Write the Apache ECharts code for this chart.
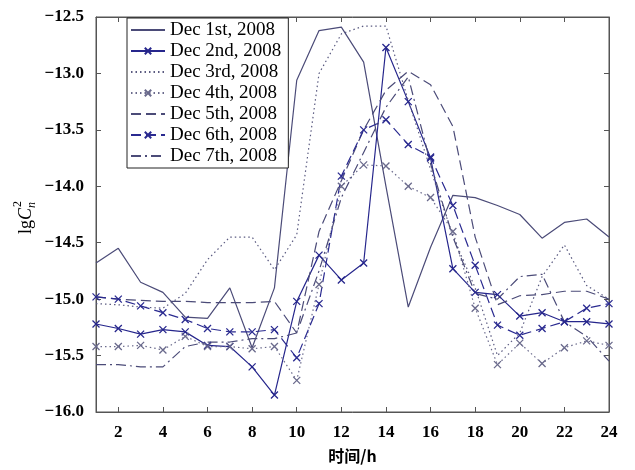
<!DOCTYPE html>
<html><head><meta charset="utf-8">
<script src="https://cdn.jsdelivr.net/npm/echarts@6/dist/echarts.min.js"></script>
<style>html,body{margin:0;padding:0;background:#fff}#c{width:635px;height:470px}</style>
</head><body><div id="c"></div>
<script>
const hours = [1,2,3,4,5,6,7,8,9,10,11,12,13,14,15,16,17,18,19,20,21,22,23,24];
const yTicks = [-16.0,-15.5,-15.0,-14.5,-14.0,-13.5,-13.0,-12.5];
const seriesNames = ['Dec 1st, 2008','Dec 2nd, 2008','Dec 3rd, 2008','Dec 4th, 2008','Dec 5th, 2008','Dec 6th, 2008','Dec 7th, 2008'];
const dec1 = [-14.68,-14.55,-14.85,-14.94,-15.16,-15.17,-14.90,-15.43,-14.90,-13.06,-12.62,-12.59,-12.90,-14.00,-15.07,-14.54,-14.08,-14.10,-14.17,-14.25,-14.46,-14.32,-14.29,-14.45];
const dec2 = [-15.22,-15.26,-15.31,-15.27,-15.29,-15.41,-15.42,-15.60,-15.85,-15.02,-14.61,-14.83,-14.68,-12.77,-13.25,-13.75,-14.73,-14.94,-14.96,-15.15,-15.12,-15.20,-15.20,-15.22];
const dec3 = [-15.04,-15.05,-15.07,-15.08,-14.95,-14.65,-14.45,-14.45,-14.74,-14.43,-13.00,-12.65,-12.58,-12.58,-13.24,-13.85,-14.44,-14.90,-15.50,-15.30,-14.80,-14.52,-14.88,-15.00];
const dec4 = [-15.42,-15.42,-15.41,-15.45,-15.33,-15.42,-15.42,-15.44,-15.42,-15.72,-14.87,-14.00,-13.81,-13.82,-14.00,-14.10,-14.40,-15.08,-15.58,-15.39,-15.57,-15.43,-15.37,-15.41];
const dec5 = [-14.98,-15.00,-15.01,-15.02,-15.02,-15.03,-15.03,-15.03,-15.02,-15.30,-14.40,-13.95,-13.50,-13.15,-12.98,-13.10,-13.47,-14.45,-15.05,-14.97,-14.96,-14.93,-14.93,-15.00];
const dec6 = [-14.98,-15.00,-15.06,-15.12,-15.18,-15.26,-15.29,-15.29,-15.27,-15.52,-15.04,-13.91,-13.50,-13.41,-13.63,-13.74,-14.17,-14.70,-15.23,-15.32,-15.26,-15.20,-15.08,-15.04];
const dec7 = [-15.58,-15.58,-15.60,-15.60,-15.42,-15.38,-15.38,-15.35,-15.35,-15.30,-14.75,-14.10,-13.70,-13.30,-13.03,-13.80,-14.45,-14.95,-15.00,-14.80,-14.78,-15.20,-15.33,-15.55];
const hasMarker = [false, true, false, true, false, true, false];

const XMARK = 'path://M0,0L10,10M10,0L0,10';
const serif = "'Liberation Serif','DejaVu Serif',serif";
function mk(name, data, color, type, marker, width) {
  return {
    name, type: 'line', data, xAxisIndex: 0, yAxisIndex: 0,
    symbol: marker ? XMARK : 'none', symbolSize: 7, showSymbol: !!marker,
    lineStyle: { color, width: width || 1.2, type },
    itemStyle: { color: 'rgba(0,0,0,0)', borderColor: color, borderWidth: 1.3 },
    emphasis: { disabled: true }, animation: false, z: 3
  };
}
const fmt = v => (v < 0 ? '\u2212' : '') + Math.abs(v).toFixed(1);
const chart = echarts.init(document.getElementById('c'), null, { renderer: 'canvas' });
const tickCat = (i, v) => (+v) % 2 === 0;
chart.setOption({
  animation: false,
  backgroundColor: '#fff',
  grid: { left: 96, right: 26, top: 17, bottom: 58, show: true, borderColor: '#555', borderWidth: 1, backgroundColor: '#fff' },
  legend: {
    orient: 'vertical', left: 127, top: 18,
    padding: [2, 7, 2, 3], itemGap: 1, itemWidth: 34, itemHeight: 8,
    backgroundColor: '#fff', borderColor: '#222', borderWidth: 1,
    textStyle: { fontFamily: serif, fontSize: 19, lineHeight: 20, color: '#000' },
    data: seriesNames.map((n, i) => hasMarker[i] ? { name: n } :
      { name: n, itemStyle: { color: 'rgba(0,0,0,0)', borderColor: 'rgba(0,0,0,0)', borderWidth: 0, opacity: 0 } })
  },
  xAxis: [
    { type: 'category', data: hours, boundaryGap: false, position: 'bottom',
      name: '时间/h', nameLocation: 'middle', nameGap: 36,
      nameTextStyle: { fontFamily: "'Noto Sans CJK SC'", fontWeight: 'bold', fontSize: 16, color: '#000' },
      axisLine: { lineStyle: { color: '#555' } },
      axisTick: { inside: true, length: 5, interval: tickCat, lineStyle: { color: '#555' } },
      axisLabel: { interval: tickCat, margin: 12, fontFamily: serif, fontWeight: 'bold', fontSize: 17, color: '#000' },
      splitLine: { show: false } },
    { type: 'category', data: hours, boundaryGap: false, position: 'top',
      axisLine: { lineStyle: { color: '#555' } },
      axisTick: { inside: true, length: 5, interval: tickCat, lineStyle: { color: '#555' } },
      axisLabel: { show: false }, splitLine: { show: false } }
  ],
  yAxis: [
    { type: 'value', min: yTicks[0], max: yTicks[yTicks.length - 1], interval: 0.5, position: 'left',
      axisLine: { show: true, lineStyle: { color: '#555' } },
      axisTick: { show: true, inside: true, length: 5, lineStyle: { color: '#555' } },
      axisLabel: { formatter: fmt, margin: 12, fontFamily: serif, fontWeight: 'bold', fontSize: 17, color: '#000' },
      splitLine: { show: false } },
    { type: 'value', min: yTicks[0], max: yTicks[yTicks.length - 1], interval: 0.5, position: 'right',
      axisLine: { show: true, lineStyle: { color: '#555' } },
      axisTick: { show: true, inside: true, length: 5, lineStyle: { color: '#555' } },
      axisLabel: { show: false }, splitLine: { show: false } }
  ],
  graphic: [{
    type: 'group', x: 35, y: 234, rotation: Math.PI / 2,
    children: [
      { type: 'text', x: 0, y: 0, style: { text: 'lg', font: "18px 'Liberation Serif'", fill: '#000', textVerticalAlign: 'bottom' } },
      { type: 'text', x: 14, y: 0, style: { text: 'C', font: "italic 18px 'Liberation Serif'", fill: '#000', textVerticalAlign: 'bottom' } },
      { type: 'text', x: 26, y: 3, style: { text: 'n', font: "italic 12px 'Liberation Serif'", fill: '#000', textVerticalAlign: 'bottom' } },
      { type: 'text', x: 27, y: -11, style: { text: '2', font: "12px 'Liberation Serif'", fill: '#000', textVerticalAlign: 'bottom' } }
    ]
  }],
  series: [
    mk(seriesNames[0], dec1, '#4b4b78', 'solid', hasMarker[0]),
    mk(seriesNames[1], dec2, '#26268c', 'solid', hasMarker[1]),
    mk(seriesNames[2], dec3, '#5a5a80', [1.5, 3], hasMarker[2]),
    mk(seriesNames[3], dec4, '#6a6a8c', [1.5, 3], hasMarker[3]),
    mk(seriesNames[4], dec5, '#4b4b78', [10, 5], hasMarker[4]),
    mk(seriesNames[5], dec6, '#2a2a90', [10, 5], hasMarker[5]),
    mk(seriesNames[6], dec7, '#4b4b78', [10, 4, 2, 4], hasMarker[6])
  ]
});
</script></body></html>
